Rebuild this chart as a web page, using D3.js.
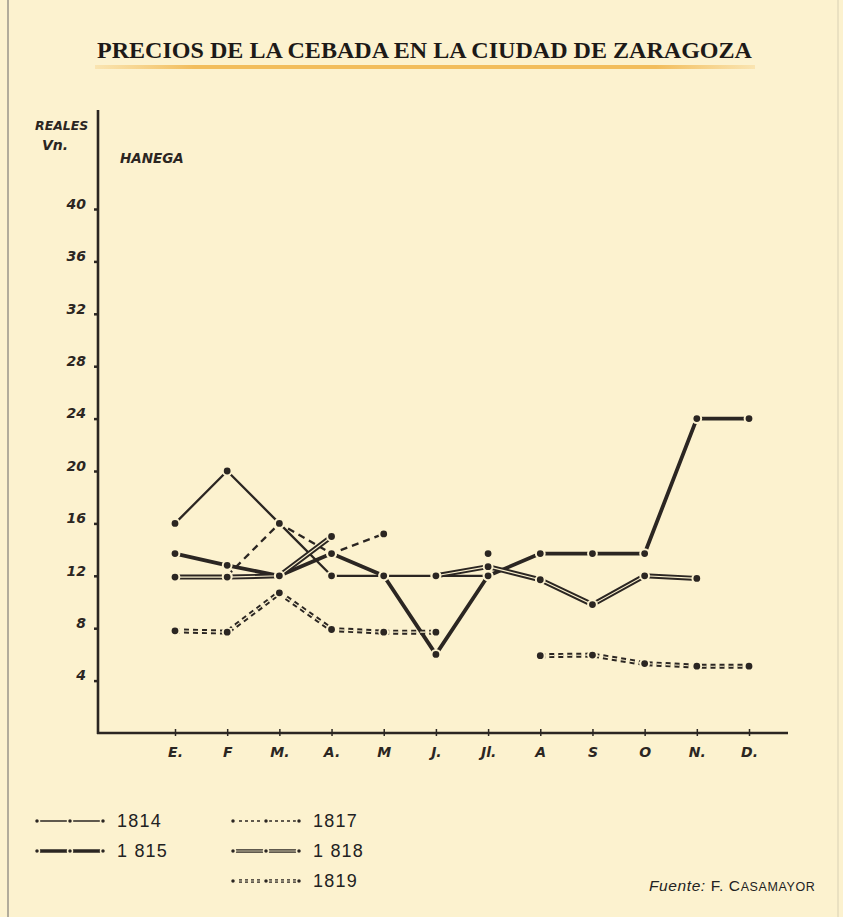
<!DOCTYPE html>
<html>
<head>
<meta charset="utf-8">
<script src="https://cdn.jsdelivr.net/npm/d3@7"></script>
<style>
  body { margin: 0; background: #fcf2cf; }
  svg { display: block; }
</style>
</head>
<body>
<svg id="svg" width="843" height="917"></svg>
<script>
// datos (reales vellon por hanega)
var months = ["E.", "F", "M.", "A.", "M", "J.", "Jl.", "A", "S", "O", "N.", "D."];
var yTicks = [4, 8, 12, 16, 20, 24, 28, 32, 36, 40];
var s1814 = [16, 20, 16, 12, 12, 12, 12, null, null, null, null, null];
var s1815 = [13.7, 12.8, 12, 13.7, 12, 6, 12, 13.7, 13.7, 13.7, 24, 24];
var s1817 = [null, 12, 16, 13.7, 15.2, null, 13.7, null, null, null, null, null];
var s1818 = [11.9, 11.9, 12, 15, null, 12, 12.7, 11.7, 9.8, 12, 11.8, null];
var s1819 = [7.8, 7.7, 10.7, 7.9, 7.7, 7.7, null, 5.9, 5.95, 5.3, 5.1, 5.1];
var years = ["1814", "1 815", "1817", "1 818", "1819"];

var bg = "#fcf2cf";
var ink = "#2b2622";
var hand = "'DejaVu Sans', sans-serif";

var svg = d3.select("#svg");

// fondo + bordes de la pagina
svg.append("rect").attr("width", 843).attr("height", 917).attr("fill", bg);
svg.append("line").attr("x1", 8).attr("x2", 8).attr("y1", 0).attr("y2", 917)
    .attr("stroke", "#9a958a").attr("stroke-width", 1.5);
svg.append("line").attr("x1", 838).attr("x2", 838).attr("y1", 0).attr("y2", 917)
    .attr("stroke", "#d8d0b4").attr("stroke-width", 1);

// titulo
var grad = svg.append("defs").append("linearGradient").attr("id", "und");
grad.append("stop").attr("offset", "0%").attr("stop-color", "#f4c46a").attr("stop-opacity", 0.3);
grad.append("stop").attr("offset", "15%").attr("stop-color", "#f2bd5c").attr("stop-opacity", 1);
grad.append("stop").attr("offset", "85%").attr("stop-color", "#f2bd5c").attr("stop-opacity", 1);
grad.append("stop").attr("offset", "100%").attr("stop-color", "#f4c46a").attr("stop-opacity", 0.3);
svg.append("rect").attr("x", 95).attr("y", 65).attr("width", 660).attr("height", 4)
    .attr("fill", "url(#und)");
svg.append("text")
    .attr("x", 97).attr("y", 58)
    .attr("font-family", "'Liberation Serif', serif")
    .attr("font-weight", "bold")
    .attr("font-size", "23px")
    .attr("textLength", 655).attr("lengthAdjust", "spacingAndGlyphs")
    .attr("fill", "#1d1a18")
    .text("PRECIOS DE LA CEBADA EN LA CIUDAD DE ZARAGOZA");

// escalas
var x = d3.scalePoint().domain(d3.range(months.length)).range([175, 749]);
var y = d3.scaleLinear().domain([0, 40]).range([733, 209]);

// ejes
svg.append("line").attr("x1", 98).attr("x2", 98).attr("y1", 110).attr("y2", 734)
    .attr("stroke", ink).attr("stroke-width", 2.6);
svg.append("line").attr("x1", 97).attr("x2", 788).attr("y1", y(0)).attr("y2", y(0))
    .attr("stroke", ink).attr("stroke-width", 2.6);

var yAxis = d3.axisLeft(y).tickValues(yTicks).tickSize(4).tickPadding(8);
var gy = svg.append("g").attr("transform", "translate(98,0)").call(yAxis);
gy.select(".domain").remove();
gy.selectAll(".tick line").attr("stroke", ink).attr("stroke-width", 2.5);
gy.selectAll(".tick text")
    .attr("font-family", hand).attr("font-style", "italic").attr("font-weight", "bold")
    .attr("font-size", "14px").attr("fill", ink).attr("dy", "-0.05em");

var xAxis = d3.axisBottom(x).tickSize(5).tickPadding(11).tickFormat(function (i) { return months[i]; });
var gx = svg.append("g").attr("transform", "translate(0," + (y(0) - 2) + ")").call(xAxis);
gx.select(".domain").remove();
gx.selectAll(".tick line").attr("stroke", ink).attr("stroke-width", 1.5).attr("y1", -2);
gx.selectAll(".tick text")
    .attr("font-family", hand).attr("font-style", "italic").attr("font-weight", "bold")
    .attr("font-size", "14px").attr("fill", ink);

// rotulos manuscritos
function label(t, px, py, size) {
    svg.append("text").attr("x", px).attr("y", py)
        .attr("font-family", hand).attr("font-style", "italic").attr("font-weight", "bold")
        .attr("font-size", size + "px").attr("fill", ink).text(t);
}
label("REALES", 35, 130, 12.5);
label("Vn.", 42, 150, 14);
label("HANEGA", 120, 163, 13.5);

// series
var line = d3.line()
    .defined(function (d) { return d != null; })
    .x(function (d, i) { return x(i); })
    .y(function (d) { return y(d); });

var styles = [
    { data: s1814, w: 2.3, dash: null, dbl: false },
    { data: s1815, w: 3.8, dash: null, dbl: false },
    { data: s1817, w: 2.3, dash: "7,5", dbl: false },
    { data: s1818, w: 5, dash: null, dbl: true },
    { data: s1819, w: 5, dash: "5,4", dbl: true }
];

styles.forEach(function (s) {
    var p = svg.append("path").attr("d", line(s.data))
        .attr("fill", "none").attr("stroke", ink).attr("stroke-width", s.w)
        .attr("stroke-linejoin", "round");
    if (s.dash) p.attr("stroke-dasharray", s.dash);
    if (s.dbl) {
        var q = svg.append("path").attr("d", line(s.data))
            .attr("fill", "none").attr("stroke", bg).attr("stroke-width", 1.1);
        if (s.dash) q.attr("stroke-dasharray", s.dash);
    }
});

styles.forEach(function (s) {
    var pts = s.data.map(function (d, i) { return { v: d, i: i }; })
        .filter(function (d) { return d.v != null; });
    svg.selectAll(null).data(pts).enter().append("circle")
        .attr("cx", function (d) { return x(d.i); })
        .attr("cy", function (d) { return y(d.v); })
        .attr("r", 4.4)
        .attr("fill", ink)
        .attr("stroke", bg).attr("stroke-width", 2);
});

// leyenda
var legendPos = [[37, 821], [37, 851], [233, 821], [233, 851], [233, 881]];
styles.forEach(function (s, k) {
    var lx = legendPos[k][0], ly = legendPos[k][1];
    var lp = svg.append("line").attr("x1", lx).attr("x2", lx + 66)
        .attr("y1", ly).attr("y2", ly)
        .attr("stroke", ink).attr("stroke-width", s.dbl ? 3.6 : (s.w > 3 ? 3.4 : 1.7));
    if (s.dash) lp.attr("stroke-dasharray", "3,3");
    if (s.dbl) {
        var lq = svg.append("line").attr("x1", lx).attr("x2", lx + 66)
            .attr("y1", ly).attr("y2", ly).attr("stroke", bg).attr("stroke-width", 0.9);
        if (s.dash) lq.attr("stroke-dasharray", "3,3");
    }
    [0, 33, 66].forEach(function (o) {
        svg.append("circle").attr("cx", lx + o).attr("cy", ly).attr("r", 2.5)
            .attr("fill", ink).attr("stroke", bg).attr("stroke-width", 1.5);
    });
    svg.append("text").attr("x", lx + 80).attr("y", ly + 6)
        .attr("font-family", "'Liberation Sans', Arial, sans-serif")
        .attr("font-size", "18px").attr("letter-spacing", "1.2px").attr("fill", "#222")
        .text(years[k]);
});

// fuente
var src = svg.append("text").attr("x", 649).attr("y", 891)
    .attr("font-family", "'Liberation Sans', Arial, sans-serif")
    .attr("font-size", "15.5px").attr("letter-spacing", "0.6px").attr("fill", "#222");
src.append("tspan").attr("font-style", "italic").text("Fuente:");
src.append("tspan").text(" F. C");
src.append("tspan").attr("font-size", "12.5px").text("ASAMAYOR");
</script>
</body>
</html>
